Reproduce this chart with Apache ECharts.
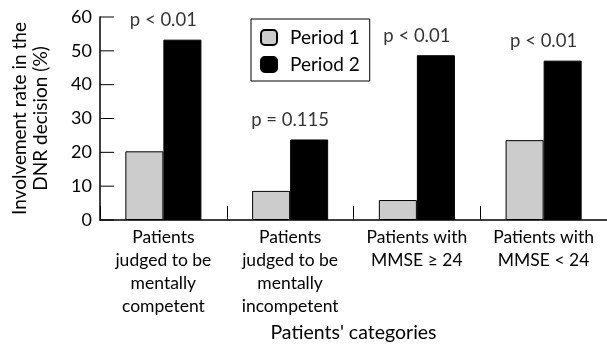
<!DOCTYPE html>
<html><head><meta charset="utf-8">
<script src="https://cdn.jsdelivr.net/npm/echarts@6/dist/echarts.min.js"></script>
<style>html,body{margin:0;padding:0;background:#fff}#c{width:607px;height:350px}</style>
</head><body><div id="c"></div>
<script>
const categories = [
  "Patients\njudged to be\nmentally\ncompetent",
  "Patients\njudged to be\nmentally\nincompetent",
  "Patients with\nMMSE \u2265 24",
  "Patients with\nMMSE < 24"
];
const period1 = [20.3, 8.6, 5.9, 23.6];
const period2 = [53.3, 23.8, 48.7, 47.1];
const pLabels = ["p < 0.01", "p = 0.115", "p < 0.01", "p < 0.01"];
const yTicks = [0, 10, 20, 30, 40, 50, 60];

const FONT = "Lato";
const chart = echarts.init(document.getElementById('c'), null, {renderer: 'canvas'});
chart.setOption({
  animation: false,
  backgroundColor: '#fff',
  textStyle: {fontFamily: FONT, color: '#000'},
  grid: {left: 100, right: -6, top: 17, bottom: 130, containLabel: false},
  legend: {
    data: ['Period 1', 'Period 2'],
    orient: 'vertical', left: 251, top: 19,
    borderColor: '#000', borderWidth: 1,
    padding: [9, 10, 7, 9], itemGap: 8,
    itemWidth: 16, itemHeight: 15,
    textStyle: {fontFamily: FONT, fontSize: 19, color: '#000', padding: [0, 0, 0, 8]}
  },
  xAxis: {
    type: 'category', data: categories,
    axisLine: {show: true, lineStyle: {color: '#000', width: 1.5}},
    axisTick: {show: true, inside: false, length: -14, lineStyle: {color: '#000', width: 1}},
    axisLabel: {fontFamily: FONT, fontSize: 17.5, color: '#000', lineHeight: 23, margin: 6, interval: 0},
    name: "Patients' categories", nameLocation: 'middle', nameGap: 88,
    nameTextStyle: {fontFamily: FONT, fontSize: 19.5, color: '#000'}
  },
  yAxis: {
    type: 'value', min: yTicks[0], max: yTicks[yTicks.length - 1], interval: 10,
    splitLine: {show: false},
    axisLine: {show: true, lineStyle: {color: '#000', width: 1.5}},
    axisTick: {show: false},
    axisLabel: {fontFamily: FONT, fontSize: 18, color: '#000', margin: 8},
    name: "Involvement rate in the\nDNR decision (%)", nameLocation: 'middle', nameGap: 49,
    nameTextStyle: {fontFamily: FONT, fontSize: 19, color: '#000', lineHeight: 21}
  },
  series: [
    {name: 'Period 1', type: 'bar', data: period1, barGap: '0%', barCategoryGap: '40%',
     itemStyle: {color: '#cccccc', borderColor: '#000', borderWidth: 1}},
    {name: 'Period 2', type: 'bar', data: period2, barGap: '0%', barCategoryGap: '40%',
     itemStyle: {color: '#000000', borderColor: '#000', borderWidth: 1}},
    {name: 'p', type: 'scatter', data: period2, symbolSize: 0, silent: true,
     label: {show: true, position: 'top', distance: 10,
       formatter: p => pLabels[p.dataIndex],
       fontFamily: FONT, fontSize: 18.5, color: '#000'}},
    {name: 'yticks', type: 'custom', silent: true, clip: false,
     data: yTicks.map(v => [0, v]),
     renderItem: (params, api) => {
       const y = api.coord([0, api.value(1)])[1];
       const x0 = params.coordSys.x;
       return {type: 'line', shape: {x1: x0, y1: y, x2: x0 + 14, y2: y},
               style: {stroke: '#000', lineWidth: 1}};
     }}
  ]
});
</script></body></html>
